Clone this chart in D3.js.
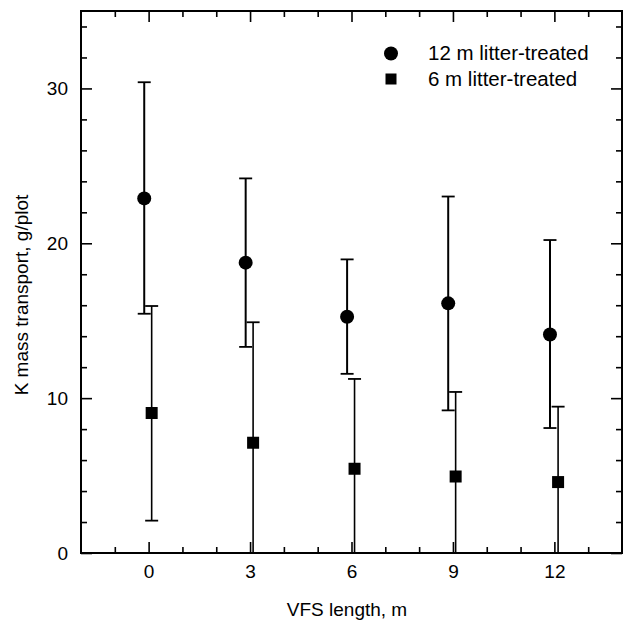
<!DOCTYPE html>
<html>
<head>
<meta charset="utf-8">
<script src="https://cdn.jsdelivr.net/npm/d3@7"></script>
<style>
  html, body { margin: 0; padding: 0; background: #fff; }
  text { font-family: "Liberation Sans", Arial, sans-serif; fill: #000; }
</style>
</head>
<body>
<svg id="chart" width="624" height="620"></svg>
<script>
// ---- data ----
const vfsLength = [0, 3, 6, 9, 12];
const xTickLabels = ["0", "3", "6", "9", "12"];
const yTickLabels = ["0", "10", "20", "30"];

// 12 m litter-treated (circles), plotted slightly left of each tick
const plot12X    = [-0.13, 2.87, 5.87, 8.86, 11.87];
const plot12Mean = [22.9, 18.75, 15.26, 16.12, 14.11];
const plot12Hi   = [30.4, 24.19, 18.96, 23.02, 20.21];
const plot12Lo   = [15.45, 13.31, 11.57, 9.21, 8.07];

// 6 m litter-treated (squares), plotted slightly right of each tick
const plot6X    = [0.09, 3.09, 6.09, 9.08, 12.11];
const plot6Mean = [9.04, 7.12, 5.44, 4.94, 4.58];
const plot6Hi   = [15.95, 14.9, 11.24, 10.4, 9.45];
const plot6Lo   = [2.09, -1.0, -1.0, -1.0, -1.0];

const legendLabels = ["12 m litter-treated", "6 m litter-treated"];

// ---- layout ----
const svg = d3.select("#chart");
const pL = 81, pR = 622, pT = 11, pB = 553;
const x = d3.scaleLinear().domain([-2, 14]).range([pL, pR]);
const y = d3.scaleLinear().domain([0, 35]).range([pB, pT]);

svg.append("clipPath").attr("id", "plotclip")
  .append("rect").attr("x", pL).attr("y", pT)
  .attr("width", pR - pL).attr("height", pB - pT);

// ---- axes (ticks pointing inward, mirrored on all sides) ----
const xMajor = vfsLength;
const xMinor = d3.range(-1, 14, 1).filter(v => !xMajor.includes(v));
const yMajor = yTickLabels.map(Number);
const yMinor = d3.range(2, 35, 2).filter(v => !yMajor.includes(v));
const fmtX = d => xTickLabels[xMajor.indexOf(d)];
const fmtY = d => yTickLabels[yMajor.indexOf(d)];

function styleAxis(g) {
  g.select(".domain").remove();
  g.selectAll(".tick line").attr("stroke", "#000").attr("stroke-width", 1.6);
  g.selectAll(".tick text").style("font-size", "19px")
    .style("font-family", '"Liberation Sans", Arial, sans-serif');
}

svg.append("g").attr("transform", `translate(0,${pB})`)
  .call(d3.axisTop(x).tickValues(xMajor).tickSize(11).tickFormat(""))
  .call(styleAxis);
svg.append("g").attr("transform", `translate(0,${pB})`)
  .call(d3.axisTop(x).tickValues(xMinor).tickSize(6).tickFormat(""))
  .call(styleAxis);
svg.append("g").attr("transform", `translate(0,${pB})`)
  .call(d3.axisBottom(x).tickValues(xMajor).tickSize(0).tickPadding(12).tickFormat(fmtX))
  .call(styleAxis);
svg.append("g").attr("transform", `translate(0,${pT})`)
  .call(d3.axisBottom(x).tickValues(xMajor).tickSize(11).tickFormat(""))
  .call(styleAxis);
svg.append("g").attr("transform", `translate(0,${pT})`)
  .call(d3.axisBottom(x).tickValues(xMinor).tickSize(6).tickFormat(""))
  .call(styleAxis);
svg.append("g").attr("transform", `translate(${pL},0)`)
  .call(d3.axisRight(y).tickValues(yMajor).tickSize(11).tickFormat(""))
  .call(styleAxis);
svg.append("g").attr("transform", `translate(${pL},0)`)
  .call(d3.axisRight(y).tickValues(yMinor).tickSize(6).tickFormat(""))
  .call(styleAxis);
svg.append("g").attr("transform", `translate(${pL},0)`)
  .call(d3.axisLeft(y).tickValues(yMajor).tickSize(0).tickPadding(13).tickFormat(fmtY))
  .call(styleAxis);
svg.append("g").attr("transform", `translate(${pR},0)`)
  .call(d3.axisLeft(y).tickValues(yMajor).tickSize(11).tickFormat(""))
  .call(styleAxis);
svg.append("g").attr("transform", `translate(${pR},0)`)
  .call(d3.axisLeft(y).tickValues(yMinor).tickSize(6).tickFormat(""))
  .call(styleAxis);

svg.append("rect").attr("x", pL).attr("y", pT)
  .attr("width", pR - pL).attr("height", pB - pT)
  .attr("fill", "none").attr("stroke", "#000").attr("stroke-width", 2);

// ---- error bars & markers ----
const plotArea = svg.append("g").attr("clip-path", "url(#plotclip)");
const capHalf = 6.5;

function drawSeries(xs, means, his, los, width, shape) {
  const data = xs.map((v, i) => ({ x: v, m: means[i], hi: his[i], lo: los[i] }));
  const g = plotArea.append("g");
  g.selectAll("line.stem").data(data).join("line").attr("class", "stem")
    .attr("x1", d => x(d.x)).attr("x2", d => x(d.x))
    .attr("y1", d => y(d.hi)).attr("y2", d => y(d.lo))
    .attr("stroke", "#000").attr("stroke-width", width);
  g.selectAll("line.capHi").data(data).join("line").attr("class", "capHi")
    .attr("x1", d => x(d.x) - capHalf).attr("x2", d => x(d.x) + capHalf)
    .attr("y1", d => y(d.hi)).attr("y2", d => y(d.hi))
    .attr("stroke", "#000").attr("stroke-width", 1.8);
  g.selectAll("line.capLo").data(data).join("line").attr("class", "capLo")
    .attr("x1", d => x(d.x) - capHalf).attr("x2", d => x(d.x) + capHalf)
    .attr("y1", d => y(d.lo)).attr("y2", d => y(d.lo))
    .attr("stroke", "#000").attr("stroke-width", 1.8);
  if (shape === "circle") {
    g.selectAll("circle").data(data).join("circle")
      .attr("cx", d => x(d.x)).attr("cy", d => y(d.m)).attr("r", 7).attr("fill", "#000");
  } else {
    g.selectAll("rect").data(data).join("rect")
      .attr("x", d => x(d.x) - 6).attr("y", d => y(d.m) - 6)
      .attr("width", 12).attr("height", 12).attr("fill", "#000");
  }
}
drawSeries(plot12X, plot12Mean, plot12Hi, plot12Lo, 2, "circle");
drawSeries(plot6X, plot6Mean, plot6Hi, plot6Lo, 1.6, "square");

// ---- legend ----
const lg = svg.append("g");
lg.append("circle").attr("cx", 391).attr("cy", 53.5).attr("r", 7).attr("fill", "#000");
lg.append("rect").attr("x", 385.5).attr("y", 73.5).attr("width", 11).attr("height", 11).attr("fill", "#000");
lg.append("text").attr("x", 428).attr("y", 60).style("font-size", "20.5px").text(legendLabels[0]);
lg.append("text").attr("x", 428).attr("y", 86).style("font-size", "20.5px").text(legendLabels[1]);

// ---- axis titles ----
svg.append("text").attr("x", 347).attr("y", 616).attr("text-anchor", "middle")
  .style("font-size", "19px").text("VFS length, m");
svg.append("text").attr("transform", "translate(27.5,295) rotate(-90)")
  .attr("text-anchor", "middle").style("font-size", "19px").text("K mass transport, g/plot");
</script>
</body>
</html>
